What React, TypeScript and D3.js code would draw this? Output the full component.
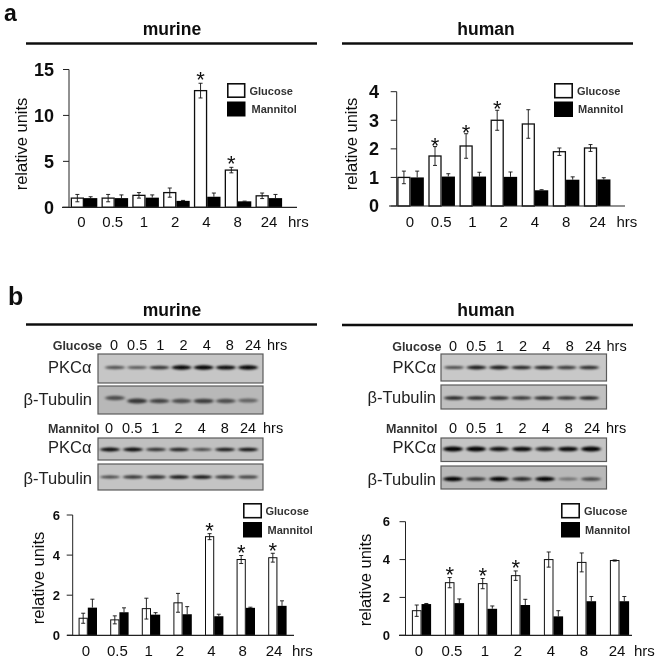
import React from "react";
import * as d3 from "d3";

const hours = ["0", "0.5", "1", "2", "4", "8", "24"];

const aMurineGlucose = [1.0, 1.0, 1.3, 1.6, 12.7, 4.05, 1.25];
const aMurineGlucoseErr = [0.4, 0.4, 0.3, 0.5, 0.8, 0.3, 0.3];
const aMurineMannitol = [1.0, 1.0, 1.05, 0.7, 1.15, 0.65, 1.0];
const aMurineMannitolErr = [0.15, 0.35, 0.3, 0.05, 0.4, 0.02, 0.4];
const aMurineStars = ["4", "8"];

const aHumanGlucose = [1.0, 1.75, 2.1, 3.0, 2.87, 1.9, 2.03];
const aHumanGlucoseErr = [0.22, 0.33, 0.43, 0.35, 0.5, 0.13, 0.12];
const aHumanMannitol = [1.0, 1.03, 1.03, 1.02, 0.55, 0.92, 0.93];
const aHumanMannitolErr = [0.22, 0.1, 0.15, 0.17, 0.02, 0.1, 0.06];
const aHumanStars = ["0.5", "1", "2"];

const bMurineGlucose = [0.85, 0.77, 1.33, 1.62, 4.92, 3.78, 3.87];
const bMurineGlucoseErr = [0.25, 0.2, 0.52, 0.47, 0.15, 0.2, 0.22];
const bMurineMannitol = [1.38, 1.15, 1.03, 1.05, 0.95, 1.37, 1.47];
const bMurineMannitolErr = [0.42, 0.22, 0.1, 0.38, 0.1, 0.03, 0.25];
const bMurineStars = ["4", "8", "24"];

const bHumanGlucose = [1.3, 2.78, 2.73, 3.15, 4.0, 3.85, 3.95];
const bHumanGlucoseErr = [0.3, 0.27, 0.27, 0.25, 0.4, 0.5, 0.03];
const bHumanMannitol = [1.65, 1.7, 1.4, 1.6, 1.0, 1.8, 1.8];
const bHumanMannitolErr = [0.03, 0.22, 0.15, 0.3, 0.3, 0.25, 0.25];
const bHumanStars = ["0.5", "1", "2"];

const ticksA1 = [0, 5, 10, 15];
const ticksA2 = [0, 1, 2, 3, 4];
const ticksB = [0, 2, 4, 6];

// band darkness per lane (0-1)
const mGluPkc = [0.5, 0.45, 0.7, 0.97, 1, 0.95, 0.97];
const mGluTub = [0.5, 0.65, 0.55, 0.5, 0.6, 0.5, 0.35];
const mGluTubDrift = [-3, 0, 0, 0, 0, 0, -0.5];
const mManPkc = [0.95, 0.95, 0.7, 0.8, 0.6, 0.85, 0.9];
const mManTub = [0.6, 0.7, 0.75, 0.9, 0.9, 0.7, 0.65];
const hGluPkc = [0.55, 0.85, 0.85, 0.8, 0.8, 0.65, 0.75];
const hGluTub = [0.8, 0.75, 0.75, 0.7, 0.75, 0.7, 0.8];
const hManPkc = [1, 1, 0.9, 0.95, 0.8, 0.95, 1];
const hManTub = [1, 0.7, 1, 0.75, 1, 0.3, 0.55];

const font = "'Liberation Sans', Arial, sans-serif";

type BarProps = {
  glucose: number[]; gErr: number[]; mannitol: number[]; mErr: number[]; stars: string[]; starGap: number;
  yMax: number; ticks: number[];
  axisX: number; yTop: number; yBase: number; baseFrom: number; baseTo: number;
  band0: number; step: number; barW: number;
  lab0: number; lab1: number; labY: number; labSize: number; hrsX: number;
  tickSize: number; tickLabelX: number;
  ylabX: number; ylabY: number; ylabSize: number;
  legX: number; legY1: number; legY2: number; legW: number; legH: number; legText: number; legText2: number; legFont: number;
  sw: number;
};

function BarPanel(p: BarProps) {
  const y = d3.scaleLinear().domain([0, p.yMax]).range([p.yBase, p.yTop]);
  const x = d3.scaleBand().domain(hours).range([p.band0, p.band0 + p.step * 7]);
  const lab = d3.scalePoint().domain(hours).range([p.lab0, p.lab1]);
  const cx = (h: string) => (x(h) as number) + x.bandwidth() / 2;
  const starSize = 22;
  return (
    <g fontFamily={font} fill="#111">
      {hours.map((h, i) => {
        const c = cx(h);
        const gc = c - p.barW / 2;
        const mc = c + p.barW / 2;
        const gTop = y(p.glucose[i] + p.gErr[i]);
        const gBot = y(p.glucose[i] - p.gErr[i]);
        const mTop = y(p.mannitol[i] + p.mErr[i]);
        return (
          <g key={h}>
            <rect x={c - p.barW + p.sw / 2} y={y(p.glucose[i])} width={p.barW - p.sw} height={p.yBase - y(p.glucose[i])} fill="#fff" stroke="#111" strokeWidth={p.sw} />
            <rect x={c} y={y(p.mannitol[i])} width={p.barW} height={p.yBase - y(p.mannitol[i])} fill="#050505" />
            <g stroke="#111" strokeWidth={0.9} fill="none">
              <line x1={gc} x2={gc} y1={gTop} y2={gBot} />
              <line x1={gc - 2} x2={gc + 2} y1={gTop} y2={gTop} />
              <line x1={gc - 2} x2={gc + 2} y1={gBot} y2={gBot} />
              <line x1={mc} x2={mc} y1={mTop} y2={y(p.mannitol[i])} />
              <line x1={mc - 2} x2={mc + 2} y1={mTop} y2={mTop} />
            </g>
            {p.stars.includes(h) && (
              <text x={gc} y={gTop - p.starGap + starSize * 0.57} textAnchor="middle" fontSize={starSize}>*</text>
            )}
            <text x={lab(h)} y={p.labY} textAnchor="middle" fontSize={p.labSize}>{h}</text>
          </g>
        );
      })}
      <text x={p.hrsX} y={p.labY} fontSize={p.labSize}>hrs</text>
      <line x1={p.axisX} x2={p.axisX} y1={p.yTop} y2={p.yBase} stroke="#222" strokeWidth={1} />
      <line x1={p.baseFrom} x2={p.baseTo} y1={p.yBase} y2={p.yBase} stroke="#222" strokeWidth={1.2} />
      {p.ticks.map((t) => (
        <g key={t}>
          <line x1={p.axisX - 6} x2={p.axisX} y1={y(t)} y2={y(t)} stroke="#222" strokeWidth={1} />
          <text x={p.tickLabelX} y={y(t) + p.tickSize * 0.36} textAnchor="end" fontSize={p.tickSize} fontWeight={700}>{t}</text>
        </g>
      ))}
      <text transform={`translate(${p.ylabX},${p.ylabY}) rotate(-90)`} textAnchor="middle" fontSize={p.ylabSize}>relative units</text>
      <rect x={p.legX + 0.8} y={p.legY1 + 0.8} width={p.legW - 1.6} height={p.legH - 1.6} fill="#fff" stroke="#111" strokeWidth={1.6} />
      <rect x={p.legX} y={p.legY2} width={p.legW} height={p.legH} fill="#050505" />
      <text x={p.legText} y={p.legY1 + p.legH / 2 + 4} fontSize={p.legFont} fontWeight={700} fill="#333">Glucose</text>
      <text x={p.legText2} y={p.legY2 + p.legH / 2 + 4} fontSize={p.legFont} fontWeight={700} fill="#333">Mannitol</text>
    </g>
  );
}

type BlotProps = { x0: number; x1: number; y0: number; y1: number; values: number[]; drift?: number[]; lane0: number; lane1: number; bg: string; bandY: number; id: string; h: number };

function Blot({ x0, x1, y0, y1, values, drift, lane0, lane1, bg, bandY, id, h }: BlotProps) {
  const lane = d3.scalePoint().domain(hours).range([lane0, lane1]);
  const dark = d3.scaleLinear().domain([0, 1]).range([0.2, 1]);
  return (
    <g>
      <clipPath id={id}><rect x={x0} y={y0} width={x1 - x0} height={y1 - y0} /></clipPath>
      <rect x={x0} y={y0} width={x1 - x0} height={y1 - y0} fill={bg} stroke="#5a5a5a" strokeWidth={1.2} />
      <g clipPath={`url(#${id})`}>
        <g filter="url(#bandBlur)">
          {hours.map((t, i) => (
            <ellipse key={t} cx={lane(t)} cy={bandY + (drift ? drift[i] : 0)} rx={10} ry={h * (0.65 + 0.55 * values[i])} fill="#050505" opacity={dark(values[i])} />
          ))}
        </g>
      </g>
    </g>
  );
}

type LaneProps = { label: string; labelEnd: number; labelSize: number; lab0: number; lab1: number; y: number; hrsX: number };

function LaneLabels({ label, labelEnd, labelSize, lab0, lab1, y, hrsX }: LaneProps) {
  const lab = d3.scalePoint().domain(hours).range([lab0, lab1]);
  return (
    <g fontFamily={font} fill="#111">
      <text x={labelEnd} y={y} textAnchor="end" fontSize={labelSize} fontWeight={700} fill="#333">{label}</text>
      {hours.map((h) => <text key={h} x={lab(h)} y={y} textAnchor="middle" fontSize={14.5}>{h}</text>)}
      <text x={hrsX} y={y} fontSize={14.5}>hrs</text>
    </g>
  );
}

function BlotName({ x, y, name }: { x: number; y: number; name: string }) {
  return <text x={x} y={y} textAnchor="end" fontFamily={font} fontSize={16.5} fill="#222">{name}</text>;
}

const Title = ({ x, y, children }: { x: number; y: number; children: string }) => (
  <text x={x} y={y} textAnchor="middle" fontFamily={font} fontSize={17.5} fontWeight={700} fill="#111">{children}</text>
);

export default function App() {
  return (
    <svg width={661} height={661} style={{ position: "absolute", left: 0, top: 0, background: "#fff" }}>
      <defs>
        <filter id="bandBlur" x="-20%" y="-50%" width="140%" height="200%"><feGaussianBlur stdDeviation="1.4 0.8" /></filter>
        <filter id="soft" x="0" y="0" width="100%" height="100%"><feGaussianBlur stdDeviation="0.45" /></filter>
      </defs>
      <g filter="url(#soft)">
        <text x={4} y={21} fontFamily={font} fontSize={23} fontWeight={700} fill="#111">a</text>
        <text x={8} y={305} fontFamily={font} fontSize={25} fontWeight={700} fill="#111">b</text>

        <Title x={172} y={35}>murine</Title>
        <line x1={26} x2={317} y1={43.5} y2={43.5} stroke="#111" strokeWidth={2.4} />
        <Title x={486} y={35}>human</Title>
        <line x1={342} x2={633} y1={43.5} y2={43.5} stroke="#111" strokeWidth={2.4} />
        <Title x={172} y={316}>murine</Title>
        <line x1={26} x2={317} y1={324.5} y2={324.5} stroke="#111" strokeWidth={2.4} />
        <Title x={486} y={316}>human</Title>
        <line x1={342} x2={633} y1={325} y2={325} stroke="#111" strokeWidth={2.4} />

        <BarPanel glucose={aMurineGlucose} gErr={aMurineGlucoseErr} mannitol={aMurineMannitol} mErr={aMurineMannitolErr} stars={aMurineStars} starGap={9}
          yMax={15} ticks={ticksA1} axisX={69} yTop={69.5} yBase={207.3} baseFrom={62} baseTo={297}
          band0={68.6} step={30.8} barW={13.3} lab0={81.5} lab1={269} labY={227} labSize={15} hrsX={288}
          tickSize={18} tickLabelX={54} ylabX={27} ylabY={144} ylabSize={16.5}
          legX={227} legY1={83} legY2={101.5} legW={18.5} legH={15} legText={249.5} legText2={251.5} legFont={11} sw={1.3} />

        <BarPanel glucose={aHumanGlucose} gErr={aHumanGlucoseErr} mannitol={aHumanMannitol} mErr={aHumanMannitolErr} stars={aHumanStars} starGap={6.5}
          yMax={4} ticks={ticksA2} axisX={396.7} yTop={91.7} yBase={206} baseFrom={389} baseTo={625}
          band0={395} step={31.1} barW={13.3} lab0={410} lab1={597.5} labY={227} labSize={15} hrsX={616.5}
          tickSize={18} tickLabelX={379} ylabX={357} ylabY={144} ylabSize={16.5}
          legX={554} legY1={83} legY2={101.5} legW={19} legH={15.5} legText={577} legText2={578} legFont={11} sw={1.3} />

        <LaneLabels label="Glucose" labelEnd={102} labelSize={12.5} lab0={114} lab1={253} y={350} hrsX={267} />
        <LaneLabels label="Mannitol" labelEnd={99.5} labelSize={12.5} lab0={109} lab1={248} y={433} hrsX={263} />
        <LaneLabels label="Glucose" labelEnd={441.5} labelSize={12.5} lab0={453} lab1={593} y={350.5} hrsX={606.5} />
        <LaneLabels label="Mannitol" labelEnd={437.5} labelSize={12.5} lab0={453} lab1={592} y={433} hrsX={606} />

        <BlotName x={91.5} y={373} name="PKCα" />
        <BlotName x={92} y={405} name="β-Tubulin" />
        <BlotName x={91.5} y={453} name="PKCα" />
        <BlotName x={92} y={483.5} name="β-Tubulin" />
        <BlotName x={436} y={373} name="PKCα" />
        <BlotName x={436} y={403} name="β-Tubulin" />
        <BlotName x={436} y={453} name="PKCα" />
        <BlotName x={436} y={485} name="β-Tubulin" />

        <Blot id="c1" x0={98} x1={263} y0={354} y1={383} values={mGluPkc} lane0={115} lane1={248} bg="#c6c6c6" bandY={367.5} h={1.8} />
        <Blot id="c2" x0={98} x1={263} y0={386} y1={414} values={mGluTub} drift={mGluTubDrift} lane0={115} lane1={248} bg="#b8b8b8" bandY={401} h={2.4} />
        <Blot id="c3" x0={98} x1={263} y0={438} y1={460} values={mManPkc} lane0={110} lane1={248} bg="#c0c0c0" bandY={449.5} h={1.6} />
        <Blot id="c4" x0={98} x1={263} y0={464} y1={490} values={mManTub} lane0={110} lane1={248} bg="#c4c4c4" bandY={477} h={1.6} />
        <Blot id="c5" x0={441} x1={606.5} y0={354} y1={381} values={hGluPkc} lane0={454} lane1={589} bg="#c8c8c8" bandY={367.5} h={1.7} />
        <Blot id="c6" x0={441} x1={606.5} y0={385} y1={409} values={hGluTub} lane0={454} lane1={589} bg="#c0c0c0" bandY={398} h={1.6} />
        <Blot id="c7" x0={441} x1={606.5} y0={438} y1={461.5} values={hManPkc} lane0={453} lane1={591} bg="#c4c4c4" bandY={449} h={2} />
        <Blot id="c8" x0={441} x1={606.5} y0={466} y1={489} values={hManTub} lane0={453} lane1={591} bg="#b8b8b8" bandY={479} h={1.8} />

        <BarPanel glucose={bMurineGlucose} gErr={bMurineGlucoseErr} mannitol={bMurineMannitol} mErr={bMurineMannitolErr} stars={bMurineStars} starGap={8}
          yMax={6} ticks={ticksB} axisX={72.7} yTop={515} yBase={635.3} baseFrom={67} baseTo={294}
          band0={72} step={31.6} barW={9.2} lab0={86} lab1={274} labY={656} labSize={15} hrsX={292}
          tickSize={13} tickLabelX={60} ylabX={44} ylabY={578} ylabSize={16.5}
          legX={243} legY1={503} legY2={522} legW={19} legH={15.5} legText={265.5} legText2={267.5} legFont={11} sw={1} />

        <BarPanel glucose={bHumanGlucose} gErr={bHumanGlucoseErr} mannitol={bHumanMannitol} mErr={bHumanMannitolErr} stars={bHumanStars} starGap={8.5}
          yMax={6} ticks={ticksB} axisX={405.5} yTop={521.7} yBase={635.3} baseFrom={399} baseTo={632}
          band0={405} step={33} barW={9.6} lab0={419} lab1={617} labY={656} labSize={15} hrsX={634}
          tickSize={13} tickLabelX={390} ylabX={371} ylabY={580} ylabSize={16.5}
          legX={561} legY1={503} legY2={522} legW={19} legH={15.5} legText={584} legText2={585} legFont={11} sw={1} />
      </g>
    </svg>
  );
}
